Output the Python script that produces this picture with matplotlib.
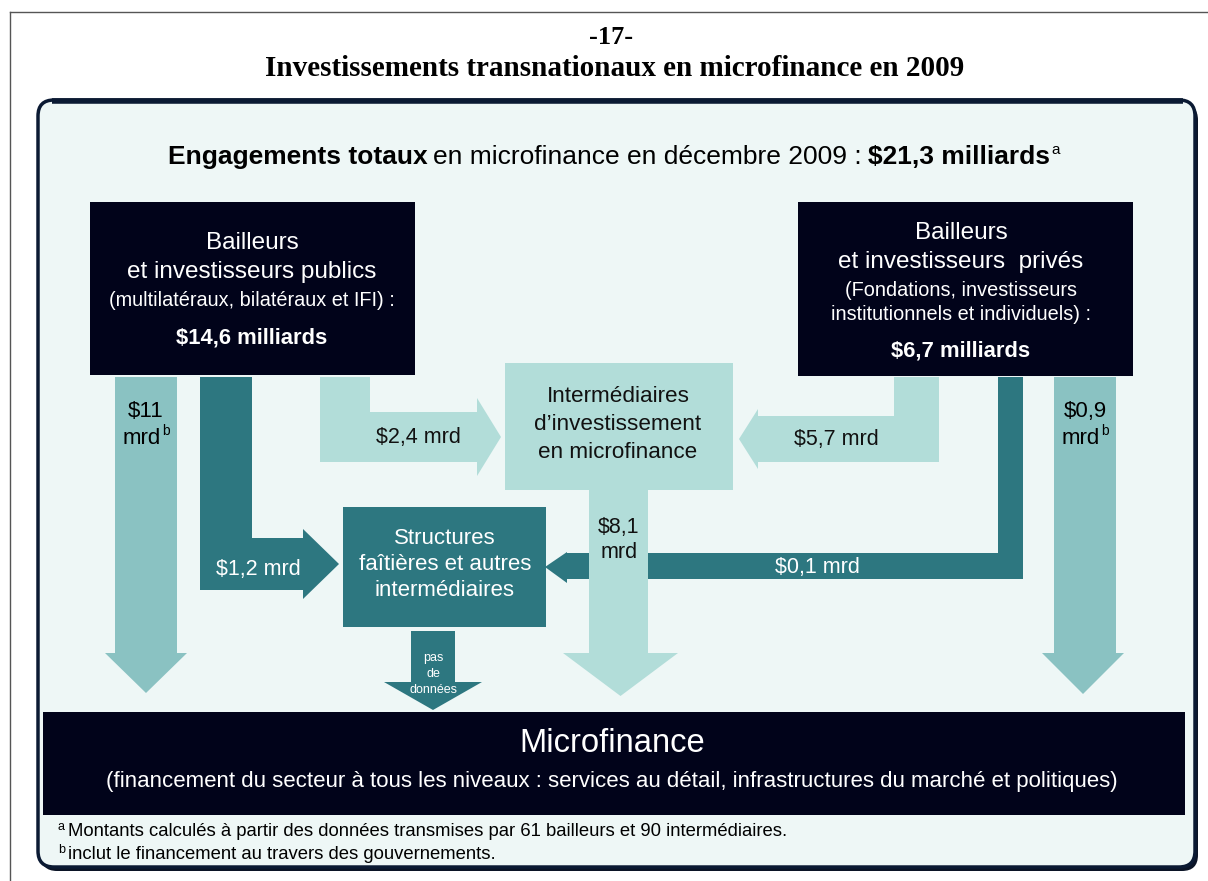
import matplotlib.pyplot as plt
from matplotlib.patches import Polygon, Rectangle, FancyBboxPatch

plt.rcParams['font.family'] = ['Liberation Sans', 'DejaVu Sans']
plt.rcParams['text.parse_math'] = False

# --- content -----------------------------------------------------------
page_no = "-17-"
title = "Investissements transnationaux en microfinance en 2009"
total_label = ["Engagements totaux", "en microfinance en décembre 2009 :", "$21,3 milliards"]
public_lines = ["Bailleurs", "et investisseurs publics", "(multilatéraux, bilatéraux et IFI) :"]
public_total = "$14,6 milliards"
private_lines = ["Bailleurs", "et investisseurs  privés", "(Fondations, investisseurs",
                 "institutionnels et individuels) :"]
private_total = "$6,7 milliards"
interm_lines = ["Intermédiaires", "d\u2019investissement", "en microfinance"]
apex_lines = ["Structures", "faîtières et autres", "intermédiaires"]
nodata_lines = ["pas", "de", "données"]
micro_title = "Microfinance"
micro_sub = ("(financement du secteur à tous les niveaux : services au détail, "
             "infrastructures du marché et politiques)")
flow_public_direct = ["$11", "mrd"]
flow_public_apex = "$1,2 mrd"
flow_public_interm = "$2,4 mrd"
flow_private_interm = "$5,7 mrd"
flow_private_apex = "$0,1 mrd"
flow_interm_direct = ["$8,1", "mrd"]
flow_private_direct = ["$0,9", "mrd"]
notes = ["Montants calculés à partir des données transmises par 61 bailleurs et 90 intermédiaires.",
         "inclut le financement au travers des gouvernements."]

NAVY = '#01031a'
DARK = '#2d7780'
MID = '#8ac2c2'
LIGHT = '#b2ddd9'
BG = '#eef7f6'

fig = plt.figure(figsize=(12.08, 8.81), dpi=100)
ax = fig.add_axes([0, 0, 1, 1])
ax.set_xlim(0, 1208)
ax.set_ylim(881, 0)
ax.axis('off')
renderer = fig.canvas.get_renderer()


def runs(x, y, items, color='black', ha='center'):
    # items: (text, size, weight, rise, gap_before)
    objs = []
    for s, size, weight, rise, gap in items:
        t = ax.text(0, y + rise, s, fontsize=size, fontweight=weight, color=color,
                    va='baseline', ha='left', zorder=10)
        objs.append((t, t.get_window_extent(renderer).width, gap))
    total = sum(w + g for _, w, g in objs)
    cur = x - total / 2 if ha == 'center' else x
    for t, w, g in objs:
        cur += g
        t.set_x(cur)
        cur += w


def lines(x, ys, texts, sizes, color, weight='normal'):
    for y, s, sz in zip(ys, texts, sizes):
        ax.text(x, y, s, fontsize=sz, color=color, ha='center', va='center',
                fontweight=weight, zorder=10)


def poly(pts, color, z=3):
    ax.add_patch(Polygon(pts, closed=True, facecolor=color, edgecolor='none', zorder=z))


def down_arrow(x0, x1, y0, yh, hx0, hx1, ytip, color, z=3):
    xc = (hx0 + hx1) / 2
    poly([(x0, y0), (x1, y0), (x1, yh), (hx1, yh), (xc, ytip), (hx0, yh), (x0, yh)], color, z)


# page lines
ax.plot([10, 1208], [12, 12], color='#555555', lw=1)
ax.plot([10, 10], [12, 881], color='#555555', lw=1)

ax.text(611, 37, page_no, family='Liberation Serif', fontsize=19, fontweight='bold',
        ha='center', va='center')
ax.text(615, 68, title, family='Liberation Serif', fontsize=21, fontweight='bold',
        ha='center', va='center')

# frame
ax.add_patch(FancyBboxPatch((41, 104), 1157, 767, boxstyle='round,pad=0,rounding_size=16',
                            facecolor='#0b1426', edgecolor='none', zorder=0))
ax.add_patch(FancyBboxPatch((38, 100), 1157, 767, boxstyle='round,pad=0,rounding_size=16',
                            facecolor=BG, edgecolor='#0b1a33', lw=2.5, zorder=1))
ax.plot([52, 1183], [101, 101], color='#0b1a33', lw=4, zorder=2, solid_capstyle='butt')

runs(614, 164, [(total_label[0], 19, 'bold', 0, 0),
                (total_label[1], 19, 'normal', 0, 6),
                (total_label[2], 19, 'bold', 0, 6),
                ('a', 11, 'normal', -10, 2)])

# source boxes
ax.add_patch(Rectangle((90, 202), 325, 173, facecolor=NAVY, zorder=4))
lines(252, [243, 272, 300], public_lines, [17.5, 17.5, 14.3], 'white')
ax.text(252, 338, public_total, fontsize=15.8, fontweight='bold', color='white',
        ha='center', va='center', zorder=10)

ax.add_patch(Rectangle((798, 202), 335, 174, facecolor=NAVY, zorder=4))
lines(961, [233, 262, 290, 314], private_lines, [17.5, 17.5, 14.3, 14.3], 'white')
ax.text(961, 351, private_total, fontsize=15.8, fontweight='bold', color='white',
        ha='center', va='center', zorder=10)

# intermediaries
ax.add_patch(Rectangle((505, 363), 228, 127, facecolor=LIGHT, zorder=4))
lines(618, [396, 424, 452], interm_lines, [16.2, 16.2, 16.2], '#111111')

ax.add_patch(Rectangle((343, 507), 203, 120, facecolor=DARK, zorder=4))
lines(445, [538, 565, 591], apex_lines, [16, 16, 16], 'white')

# arrows
down_arrow(115, 177, 377, 653, 105, 187, 693, MID)
runs(146, 417, [(flow_public_direct[0], 16, 'normal', 0, 0)])
runs(146, 444, [(flow_public_direct[1], 16, 'normal', 0, 0), ('b', 10, 'normal', -9, 1)])

poly([(200, 377), (252, 377), (252, 538), (303, 538), (303, 529), (339, 564),
      (303, 599), (303, 590), (200, 590)], DARK)
ax.text(258, 570, flow_public_apex, fontsize=15.5, color='white', ha='center', va='center', zorder=10)

poly([(320, 377), (370, 377), (370, 412), (477, 412), (477, 398), (501, 437),
      (477, 476), (477, 462), (320, 462)], LIGHT)
ax.text(418, 438, flow_public_interm, fontsize=15.5, color='#111111', ha='center', va='center', zorder=10)

poly([(939, 377), (894, 377), (894, 416), (758, 416), (758, 409), (739, 439),
      (758, 469), (758, 462), (939, 462)], LIGHT)
ax.text(836, 439, flow_private_interm, fontsize=15.5, color='#111111', ha='center', va='center', zorder=10)

poly([(1023, 377), (998, 377), (998, 553), (567, 553), (567, 552), (545, 567),
      (567, 583), (567, 579), (1023, 579)], DARK)
ax.text(817, 567, flow_private_apex, fontsize=15.5, color='white', ha='center', va='center', zorder=10)

down_arrow(589, 648, 490, 653, 563, 678, 696, LIGHT, z=5)
ax.text(619, 527, flow_interm_direct[0], fontsize=15.5, color='#111111', ha='center', va='center', zorder=10)
ax.text(619, 553, flow_interm_direct[1], fontsize=15.5, color='#111111', ha='center', va='center', zorder=10)

down_arrow(1054, 1116, 377, 653, 1042, 1124, 694, MID)
runs(1085, 417, [(flow_private_direct[0], 16, 'normal', 0, 0)])
runs(1085, 444, [(flow_private_direct[1], 16, 'normal', 0, 0), ('b', 10, 'normal', -9, 1)])

down_arrow(411, 455, 631, 682, 384, 482, 710, DARK)
lines(433, [658, 674, 690], nodata_lines, [9, 9, 9], 'white')

# microfinance box
ax.add_patch(Rectangle((43, 712), 1142, 103, facecolor=NAVY, zorder=4))
ax.text(612, 743, micro_title, fontsize=23.6, color='white', ha='center', va='center', zorder=10)
ax.text(612, 781, micro_sub, fontsize=16, color='white', ha='center', va='center', zorder=10)

# footnotes
runs(58, 836, [('a', 9, 'normal', -6, 0), (notes[0], 13.3, 'normal', 0, 3)], ha='left')
runs(58, 859, [('b', 9, 'normal', -6, 0), (notes[1], 13.3, 'normal', 0, 3)], ha='left')

fig.savefig('out.png', dpi=100, facecolor='white')
